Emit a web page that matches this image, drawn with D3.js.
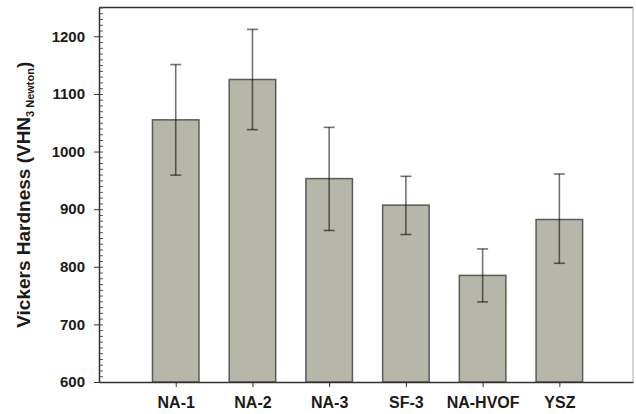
<!DOCTYPE html>
<html>
<head>
<meta charset="utf-8">
<script src="https://cdn.jsdelivr.net/npm/d3@7"></script>
<style>
  body { margin: 0; background: #fff; }
  svg { display: block; font-family: "Liberation Sans", Arial, sans-serif; }
</style>
</head>
<body>
<div id="chart"></div>
<script>
// Vickers hardness per coating, with error bars

const categories = ["NA-1", "NA-2", "NA-3", "SF-3", "NA-HVOF", "YSZ"];
const hardness = [1055, 1125, 953, 907, 785, 882];
const errUpper = [1151, 1212, 1042, 957, 831, 961];
const errLower = [959, 1038, 863, 856, 739, 806];
const yTicks = [600, 700, 800, 900, 1000, 1100, 1200];

const width = 636, height = 414;
const plotL = 99, plotR = 633, plotT = 7.5, plotB = 382;

const svg = d3.select("#chart")
  .append("svg")
  .attr("width", width)
  .attr("height", height);

const x = d3.scaleLinear().domain([0, 6.96]).range([plotL, plotR]);
const y = d3.scaleLinear().domain([600, 1250]).range([plotB, plotT]);
const barW = 46.5;

const rows = categories.map((c, i) => ({
  name: c, pos: i + 1, v: hardness[i], hi: errUpper[i], lo: errLower[i]
}));

// bars
svg.append("g")
  .selectAll("rect")
  .data(rows)
  .join("rect")
    .attr("x", d => x(d.pos) - barW / 2)
    .attr("y", d => y(d.v))
    .attr("width", barW)
    .attr("height", d => y(600) - y(d.v))
    .attr("fill", "#b7b7a9")
    .attr("stroke", "#5a5a58")
    .attr("stroke-width", 1.5);

// error bars
const eb = svg.append("g")
  .attr("stroke", "#000")
  .attr("stroke-opacity", 0.55)
  .attr("stroke-width", 1.6);

eb.selectAll("line.v")
  .data(rows)
  .join("line")
    .attr("class", "v")
    .attr("x1", d => x(d.pos)).attr("x2", d => x(d.pos))
    .attr("y1", d => y(d.hi)).attr("y2", d => y(d.lo));

eb.selectAll("line.cap")
  .data(rows.flatMap(d => [{pos: d.pos, val: d.hi}, {pos: d.pos, val: d.lo}]))
  .join("line")
    .attr("class", "cap")
    .attr("x1", d => x(d.pos) - 5.5).attr("x2", d => x(d.pos) + 5.5)
    .attr("y1", d => y(d.val)).attr("y2", d => y(d.val));

// frame: top and right
svg.append("line")
  .attr("x1", plotL).attr("x2", plotR)
  .attr("y1", plotT).attr("y2", plotT)
  .attr("stroke", "#333").attr("stroke-width", 1.5);
svg.append("line")
  .attr("x1", plotR).attr("x2", plotR)
  .attr("y1", plotT).attr("y2", plotB)
  .attr("stroke", "#aaa").attr("stroke-width", 1);

// minor ticks, inside
svg.append("g")
  .attr("transform", `translate(${plotL},0)`)
  .call(d3.axisRight(y).tickValues(d3.range(600, 1251, 10)).tickSize(4).tickFormat(""))
  .call(g => g.select(".domain").remove())
  .call(g => g.selectAll("line").attr("stroke", "#555"));

// y axis
svg.append("g")
  .attr("transform", `translate(${plotL},0)`)
  .call(d3.axisLeft(y).tickValues(yTicks).tickFormat(d3.format("d"))
    .tickSize(5).tickSizeOuter(0).tickPadding(9))
  .call(g => g.select(".domain").attr("stroke", "#333").attr("stroke-width", 1.5))
  .call(g => g.selectAll("line").attr("stroke", "#333"))
  .call(g => g.selectAll("text")
    .attr("font-size", 15).attr("font-weight", "bold").attr("fill", "#1a1a1a")
    .attr("font-family", "Liberation Sans, Arial, sans-serif"));

// x axis
svg.append("g")
  .attr("transform", `translate(0,${plotB})`)
  .call(d3.axisBottom(x).tickValues(rows.map(d => d.pos))
    .tickFormat(p => categories[p - 1]).tickSize(5).tickSizeOuter(0).tickPadding(10))
  .call(g => g.select(".domain").attr("stroke", "#333").attr("stroke-width", 1.5))
  .call(g => g.selectAll("line").attr("stroke", "#333"))
  .call(g => g.selectAll("text")
    .attr("font-size", 16).attr("font-weight", "bold").attr("fill", "#1a1a1a")
    .attr("font-family", "Liberation Sans, Arial, sans-serif"));

// y title with subscript
const title = svg.append("text")
  .attr("transform", `translate(29.5,${(plotT + plotB) / 2}) rotate(-90)`)
  .attr("text-anchor", "middle")
  .attr("font-size", 19)
  .attr("font-weight", "bold")
  .attr("fill", "#1a1a1a");
title.append("tspan").text("Vickers Hardness (VHN");
title.append("tspan").attr("font-size", 11).attr("dy", 4).text("3 Newton");
title.append("tspan").attr("dy", -4).text(")");
</script>
</body>
</html>
